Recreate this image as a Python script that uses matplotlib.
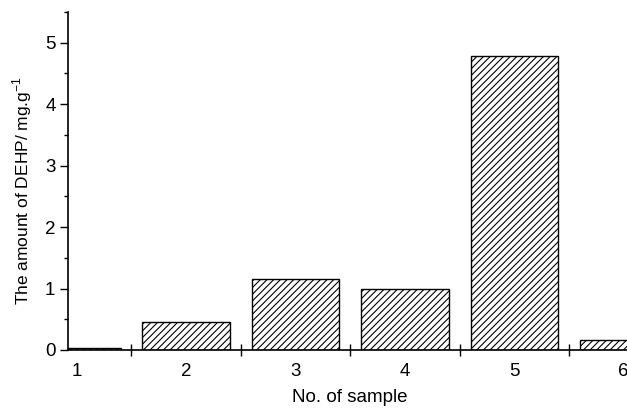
import numpy as np
import matplotlib
matplotlib.use("Agg")
from matplotlib import pyplot as plt
from matplotlib.ticker import MultipleLocator, FixedLocator, NullFormatter

# values
samples = [1, 2, 3, 4, 5, 6]
tick_labels = ["1", "2", "3", "4", "5", "6"]
dehp = [0.03, 0.46, 1.16, 0.99, 4.78, 0.16]

plt.rcParams['font.family'] = ['Liberation Sans', 'DejaVu Sans']
plt.rcParams['hatch.linewidth'] = 0.8

fig = plt.figure(figsize=(6.27, 4.08), dpi=100)
ax = fig.add_axes([68/627, 58/408, 1 - 68/627, 338/408])

ax.bar(samples, dehp, width=0.8, color='white', edgecolor='black',
       linewidth=1.0, hatch='/////', zorder=2)

ax.set_xlim(0.92, 6.03)
ax.set_ylim(0, 5.5)

for s in ['top', 'right']:
    ax.spines[s].set_visible(False)
for s in ['left', 'bottom']:
    ax.spines[s].set_linewidth(1.2)
    ax.spines[s].set_zorder(3)

# y axis: major + minor ticks pointing out
ax.yaxis.set_major_locator(MultipleLocator(1))
ax.yaxis.set_minor_locator(MultipleLocator(0.5))
ax.tick_params(axis='y', which='major', direction='out', length=6, width=1.0,
               labelsize=13.5, pad=3)
ax.tick_params(axis='y', which='minor', direction='out', length=3, width=1.0)

# x axis: labels at the samples, tick marks between them
ax.xaxis.set_major_locator(FixedLocator(samples))
ax.set_xticklabels(tick_labels)
ax.xaxis.set_minor_locator(FixedLocator([s + 0.5 for s in samples[:-1]]))
ax.xaxis.set_minor_formatter(NullFormatter())
ax.tick_params(axis='x', which='major', length=0, labelsize=13.5, pad=9)
ax.tick_params(axis='x', which='minor', direction='inout', length=8, width=1.0)

ax.set_xlabel('No. of sample', fontsize=13.5)
ax.xaxis.set_label_coords(0.504, -0.115)
ax.set_ylabel('The amount of DEHP/ mg.g$^{\\mathregular{-1}}$', fontsize=12.5)
ax.yaxis.set_label_coords(-0.06, 0.473)

fig.savefig('out.png', dpi=100)
